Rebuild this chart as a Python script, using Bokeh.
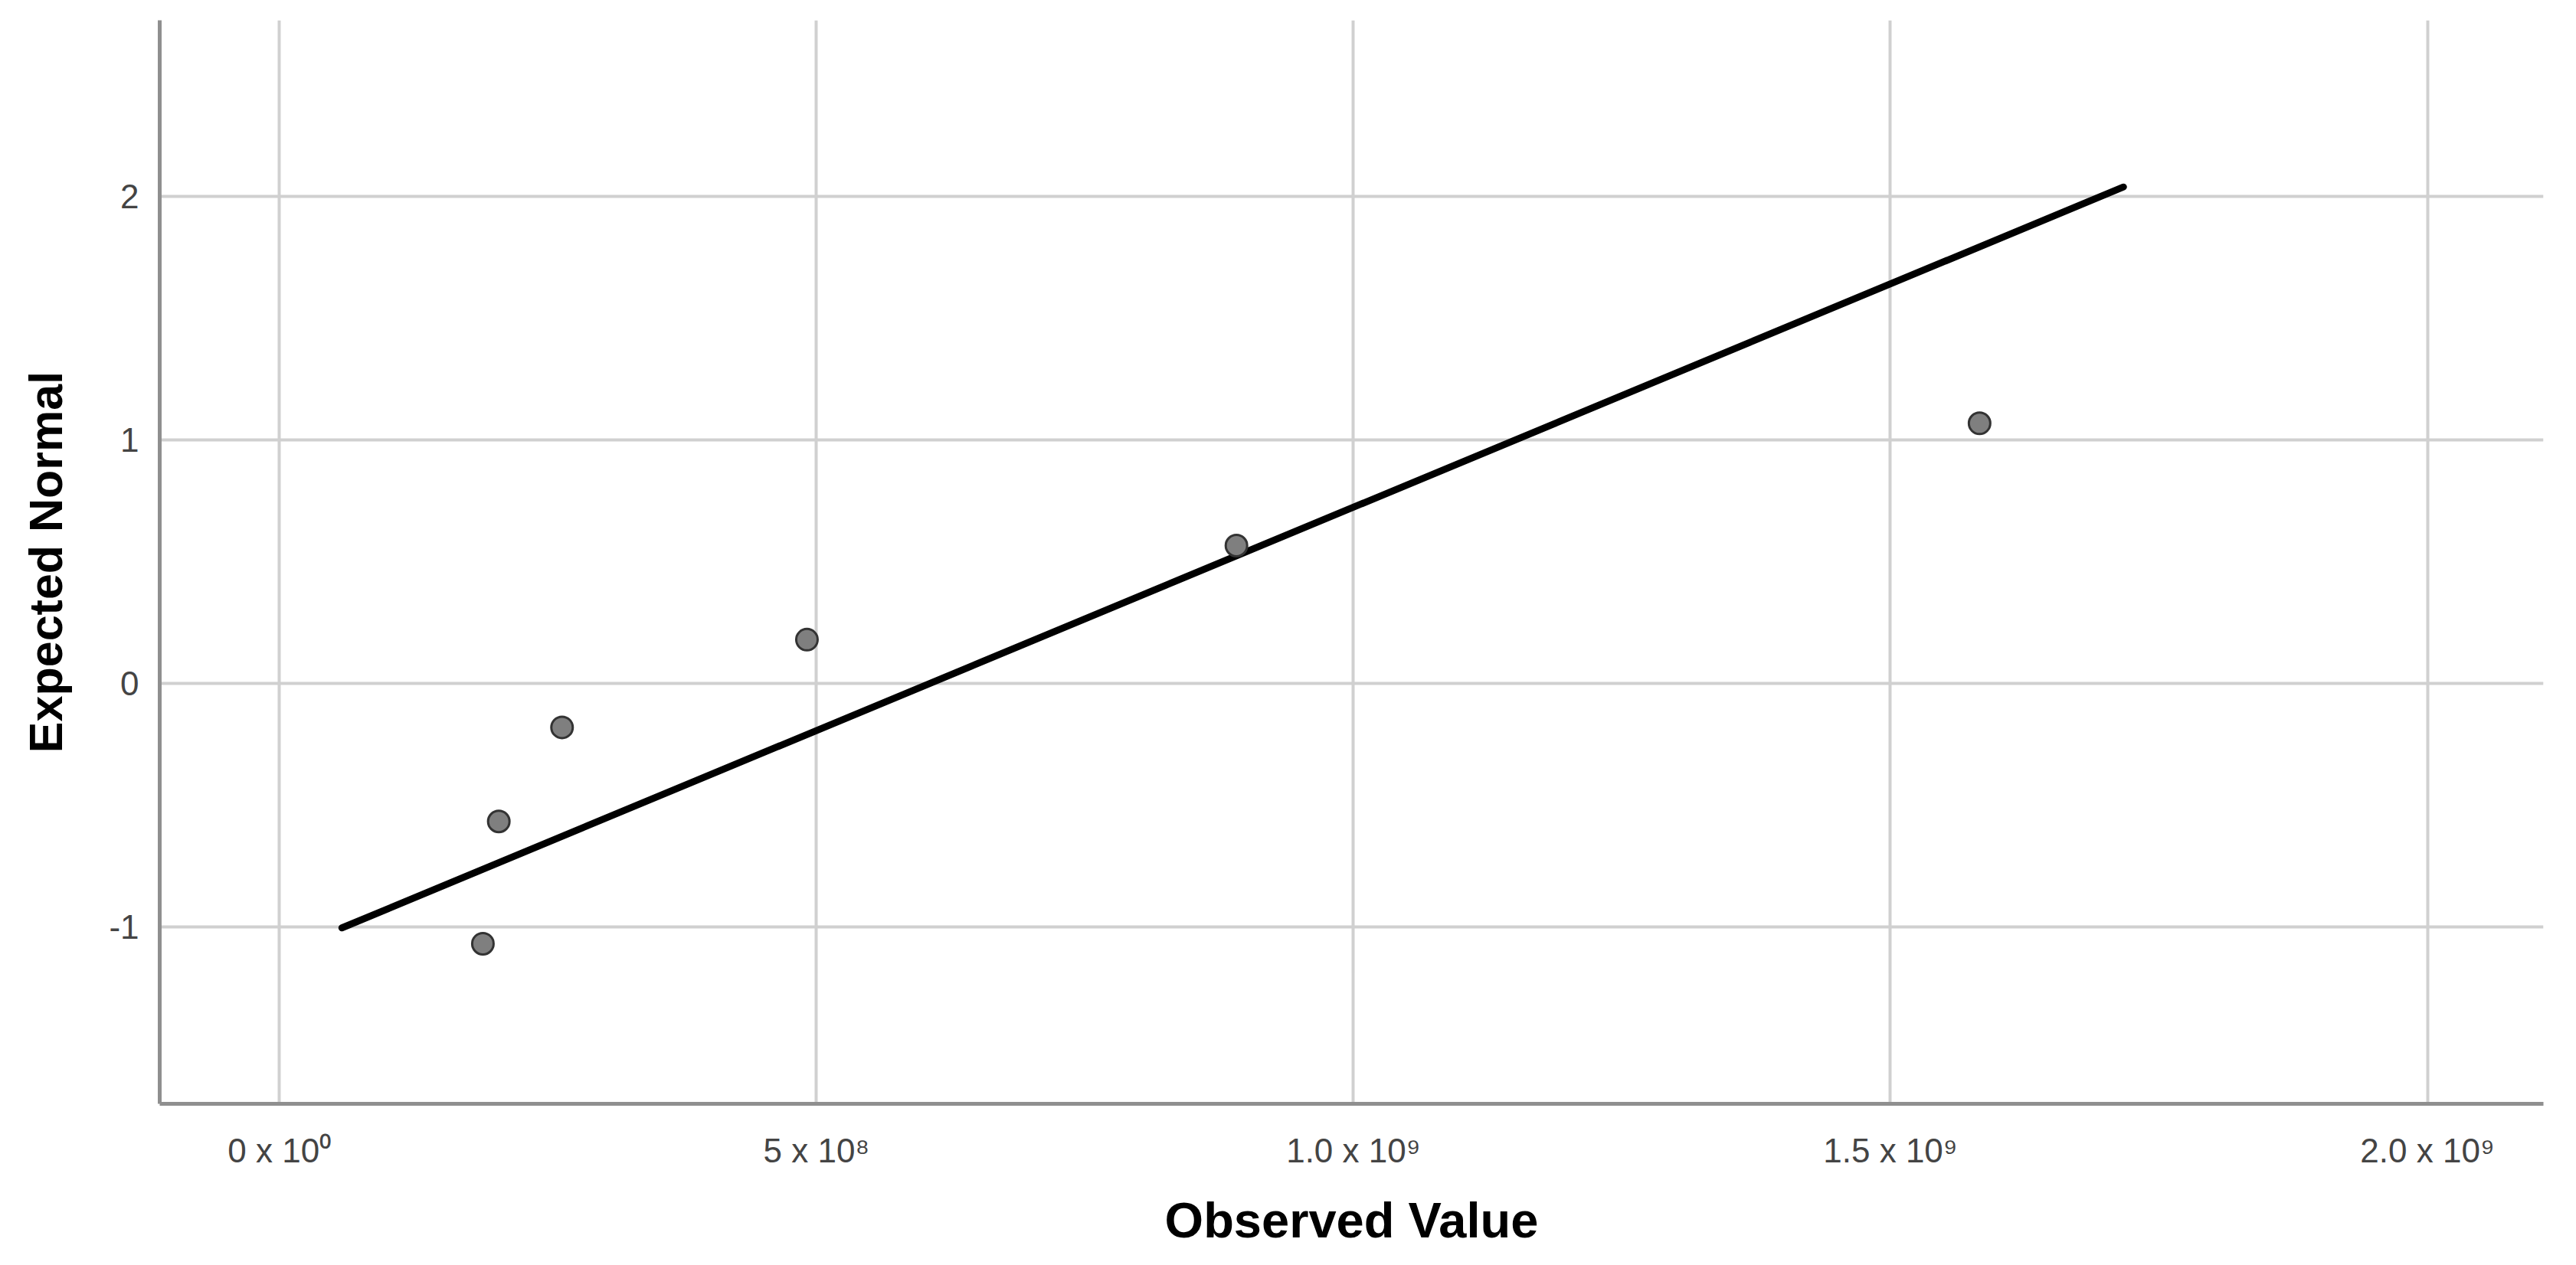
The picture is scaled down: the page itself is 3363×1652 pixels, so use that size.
from bokeh.plotting import figure
from bokeh.models import FixedTicker, Range1d
from bokeh.embed import file_html
from bokeh.resources import INLINE

# ---- data ----
observed_values = [1.895e8, 2.043e8, 2.632e8, 4.912e8, 8.911e8, 1.583e9]
expected_normal = [-1.068, -0.566, -0.180, 0.180, 0.566, 1.068]
ref_line_x = [5.82e7, 1.717e9]
ref_line_y = [-1.003, 2.038]
x_ticks = [0, 5e8, 1e9, 1.5e9, 2e9]
x_tick_labels = ["0 x 10\u2070", "5 x 10\u2078", "1.0 x 10\u2079", "1.5 x 10\u2079", "2.0 x 10\u2079"]
y_ticks = [-1, 0, 1, 2]
y_tick_labels = ["-1", "0", "1", "2"]

FONT = "Liberation Sans"

p = figure(
    width=3340, height=1636,
    output_backend="svg", toolbar_location=None,
    x_range=Range1d(-1.114e8, 2.108e9),
    y_range=Range1d(-1.725, 2.722),
    min_border_left=208, min_border_right=20,
    min_border_top=26, min_border_bottom=195,
    background_fill_color="white", border_fill_color="white",
)
p.outline_line_color = None

# grid
p.xgrid.ticker = FixedTicker(ticks=x_ticks)
p.ygrid.ticker = FixedTicker(ticks=y_ticks)
for g in (p.xgrid, p.ygrid):
    g.grid_line_color = "#d0d0d0"
    g.grid_line_width = 4

# axes
p.xaxis.ticker = FixedTicker(ticks=x_ticks)
p.yaxis.ticker = FixedTicker(ticks=y_ticks)
p.xaxis.major_label_overrides = {t: l for t, l in zip(x_ticks, x_tick_labels)}
p.yaxis.major_label_overrides = {t: l for t, l in zip(y_ticks, y_tick_labels)}
for ax in (p.xaxis, p.yaxis):
    ax.axis_line_color = "#8f8f8f"
    ax.axis_line_width = 5
    ax.major_tick_line_color = None
    ax.minor_tick_line_color = None
    ax.major_tick_out = 0
    ax.major_tick_in = 0
    ax.major_label_text_font = FONT
    ax.major_label_text_font_size = "44px"
    ax.major_label_text_color = "#444444"
    ax.axis_label_text_font = FONT
    ax.axis_label_text_font_style = "bold"
    ax.axis_label_text_color = "#000000"

p.xaxis.axis_label = "Observed Value"
p.yaxis.axis_label = "Expected Normal"
p.xaxis.axis_label_text_font_size = "65px"
p.yaxis.axis_label_text_font_size = "61px"
p.xaxis.major_label_standoff = 36
p.yaxis.major_label_standoff = 27
p.xaxis.axis_label_standoff = 27
p.yaxis.axis_label_standoff = 45

# reference line
p.line(ref_line_x, ref_line_y, line_color="black", line_width=9, line_cap="round")

# points
p.scatter(observed_values, expected_normal, size=28, marker="circle",
          fill_color="#7f7f7f", line_color="#333333", line_width=3)

open("out.html", "w").write(file_html(p, INLINE))
